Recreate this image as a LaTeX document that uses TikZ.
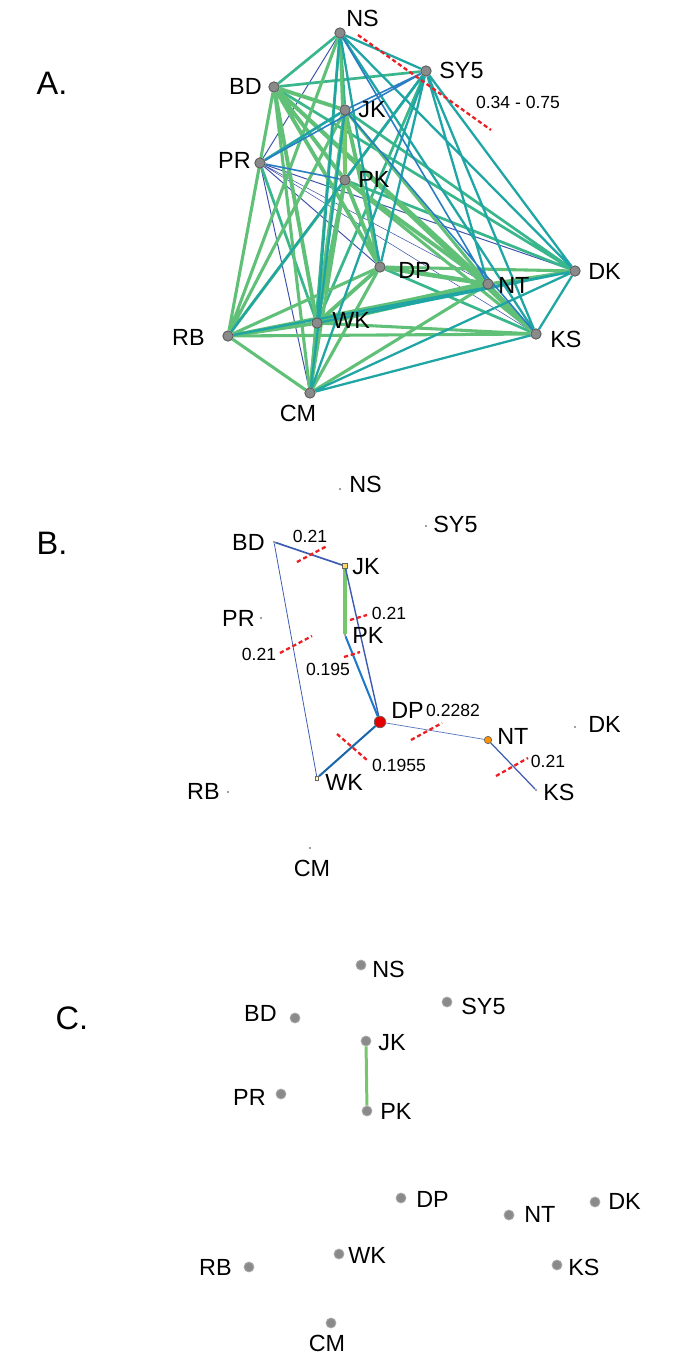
\documentclass[tikz,border=0pt]{standalone}
\usepackage{fontspec}
\setmainfont{Liberation Sans}
\usetikzlibrary{positioning}
\pgfdeclarelayer{bg}
\pgfsetlayers{bg,main}

\definecolor{eGreen}{RGB}{96,192,120}
\definecolor{eLime}{RGB}{118,198,108}
\definecolor{eSea}{RGB}{58,182,140}
\definecolor{eTeal}{RGB}{32,165,165}
\definecolor{eBlue}{RGB}{40,125,195}
\definecolor{eNavy}{RGB}{60,80,170}
\definecolor{bNavy}{RGB}{60,92,178}
\definecolor{bBlue}{RGB}{30,120,200}
\definecolor{cutRed}{RGB}{236,32,36}
\definecolor{dotGray}{RGB}{138,138,138}

\begin{document}
\begin{tikzpicture}[
    x=0.02cm, y=-0.02cm,
    dotA/.style={circle, fill=dotGray, draw=black!65, line width=0.5pt, minimum size=5.9pt, inner sep=0pt},
    dotB/.style={circle, fill=gray, inner sep=0pt, minimum size=1.2pt},
    dotC/.style={circle, fill=dotGray, draw=gray!70, line width=0.5pt, minimum size=5.6pt, inner sep=0pt},
    lab/.style={font=\fontsize{13.3}{15}\selectfont, inner sep=0pt},
    num/.style={font=\fontsize{10}{12}\selectfont, inner sep=0pt},
    panel/.style={font=\fontsize{18.5}{22}\selectfont, inner sep=0pt},
    cut/.style={draw=cutRed, line width=1.3pt, dash pattern=on 2.4pt off 1.6pt},
    edgeG1/.style={draw=eGreen, line width=2.2pt},
    edgeG2/.style={draw=eGreen, line width=1.75pt},
    edgeSea/.style={draw=eSea, line width=1.55pt},
    edgeTeal/.style={draw=eTeal, line width=1.3pt},
    edgeBlue/.style={draw=eBlue, line width=0.9pt},
    edgeNavy/.style={draw=eNavy, line width=0.55pt},
    edgeHair/.style={draw=eNavy, line width=0.3pt},
]
  \useasboundingbox (0,0) rectangle (686,1365);

  % ---------------- A. full network
  \node[panel] (pA) at (52,83) {A.};

  \node[dotA] (aNS) at (340,33) {};
  \node[dotA] (aSY5) at (426,71) {};
  \node[dotA] (aBD) at (274,87) {};
  \node[dotA] (aJK) at (345,110) {};
  \node[dotA] (aPR) at (260,163) {};
  \node[dotA] (aPK) at (345,180) {};
  \node[dotA] (aDP) at (380,267) {};
  \node[dotA] (aNT) at (488,284) {};
  \node[dotA] (aDK) at (575,271) {};
  \node[dotA] (aWK) at (317,323) {};
  \node[dotA] (aRB) at (228,336) {};
  \node[dotA] (aKS) at (536,334) {};
  \node[dotA] (aCM) at (310,393) {};

  \node[lab, anchor=west] (aNSl) at (346,18) {NS};
  \node[lab, anchor=west] (aSY5l) at (439,70) {SY5};
  \node[lab, anchor=east] (aBDl) at (262,86) {BD};
  \node[lab, anchor=west] (aJKl) at (358,110) {JK};
  \node[lab, anchor=east] (aPRl) at (251,160) {PR};
  \node[lab, anchor=west] (aPKl) at (358,179) {PK};
  \node[lab, anchor=west] (aDPl) at (398,270) {DP};
  \node[lab, anchor=west] (aNTl) at (498,285) {NT};
  \node[lab, anchor=west] (aDKl) at (588,271) {DK};
  \node[lab, anchor=west] (aWKl) at (332,320) {WK};
  \node[lab, anchor=east] (aRBl) at (205,337) {RB};
  \node[lab, anchor=west] (aKSl) at (550,339) {KS};
  \node[lab] (aCMl) at (298,413) {CM};

  \begin{pgfonlayer}{bg}
    \draw[edgeHair] (aBD) -- (aPR) (aPR) -- (aNT) (aPR) -- (aKS);
    \draw[edgeNavy] (aNS) -- (aPR) (aPR) -- (aDP) (aPR) -- (aDK) (aPR) -- (aCM);
    \draw[edgeSea] (aNS) -- (aBD) (aNS) -- (aJK) (aNS) -- (aCM) (aSY5) -- (aBD)
      (aSY5) -- (aPK) (aSY5) -- (aWK) (aBD) -- (aDK) (aJK) -- (aDK)
      (aPR) -- (aWK) (aPK) -- (aDK) (aDP) -- (aKS);
    \draw[edgeG2] (aNS) -- (aPK) (aNS) -- (aRB) (aBD) -- (aRB) (aBD) -- (aKS)
      (aBD) -- (aCM) (aJK) -- (aNT) (aJK) -- (aRB) (aPR) -- (aRB)
      (aPK) -- (aRB) (aPK) -- (aKS) (aPK) -- (aCM) (aDP) -- (aDK)
      (aDP) -- (aRB) (aDP) -- (aCM) (aNT) -- (aDK) (aNT) -- (aRB)
      (aNT) -- (aKS) (aNT) -- (aCM) (aWK) -- (aKS) (aRB) -- (aKS) (aRB) -- (aCM);
    \draw[edgeG1] (aBD) -- (aJK) (aBD) -- (aPK) (aBD) -- (aDP) (aBD) -- (aNT)
      (aBD) -- (aWK) (aJK) -- (aDP) (aJK) -- (aWK) (aPK) -- (aDP)
      (aPK) -- (aNT) (aPK) -- (aWK) (aDP) -- (aWK) (aWK) -- (aRB) (aWK) -- (aCM);
    \draw[edgeG1, line width=2.6pt] (aDP) -- (aNT);
    \draw[edgeG1, line width=4pt] (aNT) -- (aWK);
    \draw[draw=eLime, line width=2.8pt] (aJK) -- (aPK);
    \draw[edgeTeal] (aNS) -- (aSY5) (aNS) -- (aDP) (aNS) -- (aDK) (aNS) -- (aWK)
      (aNS) -- (aKS) (aSY5) -- (aDP) (aSY5) -- (aNT) (aSY5) -- (aDK)
      (aSY5) -- (aRB) (aSY5) -- (aKS) (aSY5) -- (aCM) (aJK) -- (aCM)
      (aDK) -- (aWK) (aDK) -- (aRB) (aDK) -- (aKS) (aDK) -- (aCM) (aKS) -- (aCM);
    \draw[edgeTeal, line width=1.5pt] (aJK) -- (aPR);
    \draw[edgeBlue] (aNS) -- (aNT) (aSY5) -- (aJK) (aSY5) -- (aPR)
      (aJK) -- (aKS) (aPR) -- (aPK);
  \end{pgfonlayer}

  \draw[cut] (358,35) -- (491,130);
  \node[num] (aCut) at (518,102) {0.34 - 0.75};

  % ---------------- B. cut tree
  \node[panel] (pB) at (52,543) {B.};

  \node[dotB] (bNS) at (340,489) {};
  \node[dotB] (bSY5) at (426,526) {};
  \node[dotB] (bBD) at (274,542) {};
  \node[rectangle, fill=yellow!55!orange!60, draw=black!60, line width=0.3pt, minimum size=2.6pt, inner sep=0pt] (bJK) at (345,566) {};
  \node[dotB] (bPR) at (261,618) {};
  \node[dotB] (bPK) at (345,635) {};
  \node[circle, fill=red!90!black, draw=black!60, line width=0.4pt, minimum size=6.6pt, inner sep=0pt] (bDP) at (380,722) {};
  \node[circle, fill=orange!85!yellow, draw=black!60, line width=0.4pt, minimum size=4.2pt, inner sep=0pt] (bNT) at (488,740) {};
  \node[dotB] (bDK) at (575,727) {};
  \node[rectangle, fill=yellow!30, draw=black!60, line width=0.3pt, minimum size=2pt, inner sep=0pt] (bWK) at (317,778) {};
  \node[dotB] (bRB) at (228,792) {};
  \node[dotB] (bKS) at (536,790) {};
  \node[dotB] (bCM) at (310,848) {};

  \node[lab, anchor=west] (bNSl) at (349,484) {NS};
  \node[lab, anchor=west] (bSY5l) at (433,524) {SY5};
  \node[lab, anchor=east] (bBDl) at (265,542) {BD};
  \node[lab, anchor=west] (bJKl) at (352,567) {JK};
  \node[lab, anchor=east] (bPRl) at (255,618) {PR};
  \node[lab, anchor=west] (bPKl) at (352,635) {PK};
  \node[lab, anchor=west] (bDPl) at (391,710) {DP};
  \node[lab, anchor=west] (bNTl) at (497,736) {NT};
  \node[lab, anchor=west] (bDKl) at (588,724) {DK};
  \node[lab, anchor=west] (bWKl) at (325,782) {WK};
  \node[lab, anchor=east] (bRBl) at (220,791) {RB};
  \node[lab, anchor=west] (bKSl) at (543,792) {KS};
  \node[lab] (bCMl) at (312,868) {CM};

  \begin{pgfonlayer}{bg}
    \draw[bNavy, line width=0.95pt] (bBD) -- (bJK);
    \draw[bNavy, line width=0.45pt] (bBD) -- (bWK);
    \draw[eLime, line width=2.2pt] (bJK) -- (bPK);
    \draw[bNavy, line width=0.8pt] (bJK) -- (bDP);
    \draw[bBlue, line width=1.15pt] (bPK) -- (bDP);
    \draw[bBlue!85!black, line width=1.15pt] (bDP) -- (bWK);
    \draw[bNavy!80, line width=0.45pt] (bDP) -- (bNT);
    \draw[bNavy, line width=0.7pt] (bNT) -- (bKS);
  \end{pgfonlayer}

  % cuts
  \draw[cut] (297,562) -- (327,546);
  \node[num] (bCut1) at (310,536) {0.21};
  \draw[cut] (350,620) -- (367,615);
  \node[num] (bCut2) at (389,613) {0.21};
  \draw[cut] (280,653) -- (312,636);
  \node[num] (bCut3) at (259,654) {0.21};
  \draw[cut] (344,657) -- (360,652);
  \node[num] (bCut4) at (328,669) {0.195};
  \draw[cut] (337,734) -- (367,760);
  \node[num] (bCut5) at (399,765) {0.1955};
  \draw[cut] (411,740) -- (442,723);
  \node[num] (bCut6) at (453,710) {0.2282};
  \draw[cut] (496,776) -- (528,758);
  \node[num] (bCut7) at (548,761) {0.21};

  % ---------------- C. remaining link
  \node[panel] (pC) at (72,1018) {C.};

  \node[dotC] (cNS) at (361,965) {};
  \node[dotC] (cSY5) at (447,1002) {};
  \node[dotC] (cBD) at (295,1018) {};
  \node[dotC] (cJK) at (366,1041) {};
  \node[dotC] (cPR) at (281,1094) {};
  \node[dotC] (cPK) at (367,1111) {};
  \node[dotC] (cDP) at (401,1198) {};
  \node[dotC] (cNT) at (509,1215) {};
  \node[dotC] (cDK) at (595,1202) {};
  \node[dotC] (cWK) at (339,1254) {};
  \node[dotC] (cRB) at (249,1267) {};
  \node[dotC] (cKS) at (557,1265) {};
  \node[dotC] (cCM) at (331,1323) {};

  \node[lab, anchor=west] (cNSl) at (372,969) {NS};
  \node[lab, anchor=west] (cSY5l) at (461,1006) {SY5};
  \node[lab, anchor=east] (cBDl) at (277,1013) {BD};
  \node[lab, anchor=west] (cJKl) at (378,1043) {JK};
  \node[lab, anchor=east] (cPRl) at (266,1097) {PR};
  \node[lab, anchor=west] (cPKl) at (380,1111) {PK};
  \node[lab, anchor=west] (cDPl) at (416,1199) {DP};
  \node[lab, anchor=west] (cNTl) at (524,1214) {NT};
  \node[lab, anchor=west] (cDKl) at (608,1201) {DK};
  \node[lab, anchor=west] (cWKl) at (348,1255) {WK};
  \node[lab, anchor=east] (cRBl) at (232,1267) {RB};
  \node[lab, anchor=west] (cKSl) at (568,1267) {KS};
  \node[lab] (cCMl) at (327,1343) {CM};

  \begin{pgfonlayer}{bg}
    \draw[eLime, line width=1.7pt] (cJK) -- (cPK);
  \end{pgfonlayer}
\end{tikzpicture}
\end{document}
